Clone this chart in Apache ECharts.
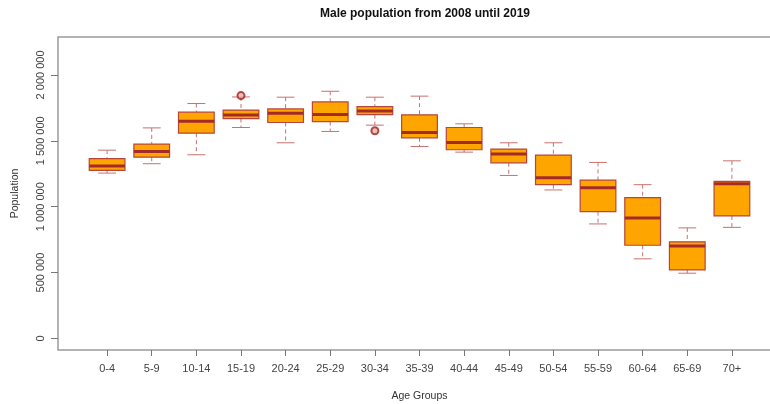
<!DOCTYPE html>
<html>
<head>
<meta charset="utf-8">
<script src="https://cdn.jsdelivr.net/npm/echarts@6/dist/echarts.min.js"></script>
<style>
  html, body { margin: 0; padding: 0; background: #fff; }
  #chart { width: 770px; height: 404px; }
</style>
</head>
<body>
<div id="chart"></div>
<script>
// Age groups on the x axis
const ageGroups = ['0-4', '5-9', '10-14', '15-19', '20-24', '25-29', '30-34', '35-39',
  '40-44', '45-49', '50-54', '55-59', '60-64', '65-69', '70+'];

// Five-number summaries per age group (male population, 2008-2019)
const whiskerLow  = [1255000, 1326000, 1394000, 1601000, 1485000, 1571000, 1619000, 1457000,
  1414000, 1237000, 1127000, 869000, 604000, 495000, 843000];
const quartile1   = [1275000, 1376000, 1558000, 1669000, 1639000, 1646000, 1699000, 1523000,
  1432000, 1333000, 1167000, 962000, 707000, 520000, 930000];
const medians     = [1308000, 1419000, 1649000, 1695000, 1710000, 1699000, 1727000, 1563000,
  1487000, 1399000, 1220000, 1144000, 914000, 702000, 1174000];
const quartile3   = [1364000, 1475000, 1717000, 1733000, 1742000, 1795000, 1760000, 1697000,
  1601000, 1437000, 1392000, 1202000, 1068000, 733000, 1192000];
const whiskerHigh = [1429000, 1598000, 1783000, 1833000, 1831000, 1876000, 1831000, 1839000,
  1629000, 1485000, 1485000, 1336000, 1167000, 839000, 1348000];

// Outliers: [age group, value]
const outlierGroups = ['15-19', '30-34'];
const outlierValues = [1843000, 1576000];

// Y axis tick values
const yTicks = [0, 500000, 1000000, 1500000, 2000000];

const FONT = 'Liberation Sans, Arial, sans-serif';
const BOX_FILL = '#FFA500';
const BOX_EDGE = '#B5473A';
const MEDIAN_COLOR = '#A52A2A';
const WHISKER_COLOR = '#C87070';

const boxData = ageGroups.map((g, i) => [i + 1, whiskerLow[i], quartile1[i], medians[i], quartile3[i], whiskerHigh[i]]);
const outlierData = outlierGroups.map((g, i) => [ageGroups.indexOf(g) + 1, outlierValues[i]]);
const xTicks = ageGroups.map((g, i) => i + 1);

function fmtThousands(v) {
  return String(v).replace(/\B(?=(\d{3})+(?!\d))/g, ' ');
}

function renderBox(params, api) {
  const x = api.value(0);
  const lo = api.coord([x, api.value(1)]);
  const q1 = api.coord([x, api.value(2)]);
  const md = api.coord([x, api.value(3)]);
  const q3 = api.coord([x, api.value(4)]);
  const hi = api.coord([x, api.value(5)]);
  const boxW = api.size([0.8, 0])[0];
  const capW = boxW * 0.5;
  const cx = lo[0];
  const dash = { stroke: WHISKER_COLOR, lineWidth: 1, lineDash: [4, 3] };
  const cap = { stroke: WHISKER_COLOR, lineWidth: 1 };
  return {
    type: 'group',
    children: [
      { type: 'line', shape: { x1: cx, y1: hi[1], x2: cx, y2: q3[1] }, style: dash },
      { type: 'line', shape: { x1: cx, y1: q1[1], x2: cx, y2: lo[1] }, style: dash },
      { type: 'line', shape: { x1: cx - capW / 2, y1: hi[1], x2: cx + capW / 2, y2: hi[1] }, style: cap },
      { type: 'line', shape: { x1: cx - capW / 2, y1: lo[1], x2: cx + capW / 2, y2: lo[1] }, style: cap },
      { type: 'rect', shape: { x: cx - boxW / 2, y: q3[1], width: boxW, height: q1[1] - q3[1] },
        style: { fill: BOX_FILL, stroke: BOX_EDGE, lineWidth: 1.2 } },
      { type: 'line', shape: { x1: cx - boxW / 2, y1: md[1], x2: cx + boxW / 2, y2: md[1] },
        style: { stroke: MEDIAN_COLOR, lineWidth: 3 } }
    ]
  };
}

const chart = echarts.init(document.getElementById('chart'), null, { renderer: 'canvas' });
chart.setOption({
  animation: false,
  backgroundColor: '#fff',
  textStyle: { fontFamily: FONT },
  title: {
    text: 'Male population from 2008 until 2019',
    left: 420,
    top: 3,
    textAlign: 'center',
    textStyle: { fontFamily: FONT, fontSize: 12, fontWeight: 'bold', color: '#111' }
  },
  grid: {
    left: 58, top: 37, width: 723, height: 313,
    containLabel: false,
    outerBoundsMode: 'none',
    show: true, borderColor: '#9a9a9a', borderWidth: 1.5, backgroundColor: 'transparent'
  },
  xAxis: {
    type: 'value',
    min: -0.1, max: 16.1,
    name: 'Age Groups',
    nameLocation: 'middle',
    nameGap: 41,
    nameTextStyle: { fontFamily: FONT, fontSize: 10.5, color: '#333' },
    axisLine: { show: false, onZero: false },
    splitLine: { show: false },
    axisTick: { show: true, length: 6, customValues: xTicks, lineStyle: { color: '#777' } },
    axisLabel: {
      customValues: xTicks, margin: 13, fontFamily: FONT, fontSize: 11, color: '#444',
      formatter: v => ageGroups[Math.round(v) - 1] || ''
    }
  },
  yAxis: {
    type: 'value',
    min: -88000, max: 2288000,
    name: 'Population',
    nameLocation: 'middle',
    nameGap: 37,
    nameRotate: 90,
    nameTextStyle: { fontFamily: FONT, fontSize: 10.5, color: '#333' },
    axisLine: { show: false, onZero: false },
    splitLine: { show: false },
    axisTick: { show: true, length: 7, customValues: yTicks, lineStyle: { color: '#777' } },
    axisLabel: {
      customValues: yTicks, rotate: 90, margin: 12, fontFamily: FONT, fontSize: 11, color: '#444',
      formatter: v => fmtThousands(v)
    }
  },
  series: [
    {
      type: 'custom',
      renderItem: renderBox,
      encode: { x: 0, y: [1, 2, 3, 4, 5] },
      data: boxData,
      z: 2
    },
    {
      type: 'scatter',
      data: outlierData,
      symbol: 'circle',
      symbolSize: 7,
      itemStyle: { color: '#E8B0A8', borderColor: '#A0201C', borderWidth: 2 },
      z: 3
    }
  ]
});
</script>
</body>
</html>
